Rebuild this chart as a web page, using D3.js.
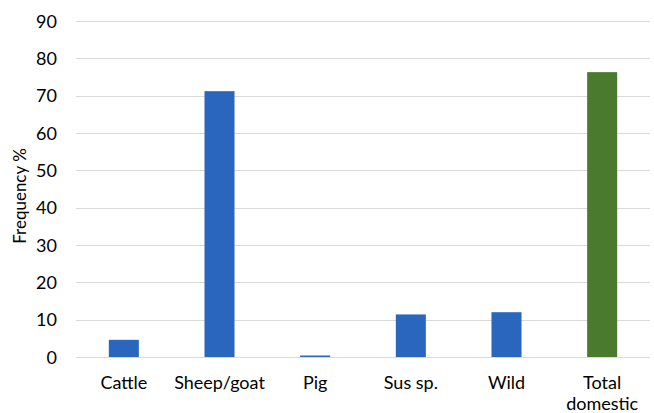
<!DOCTYPE html>
<html>
<head>
<meta charset="utf-8">
<script src="https://cdn.jsdelivr.net/npm/d3@7/dist/d3.min.js"></script>
<style>
  html, body { margin: 0; padding: 0; background: #fff; }
  svg text { font-family: Lato, "Open Sans", sans-serif; fill: #000; }
</style>
</head>
<body>
<svg id="chart" width="654" height="413"></svg>
<script>
(function () {
  'use strict';

  /* données */
  var categories = ['Cattle', 'Sheep/goat', 'Pig', 'Sus sp.', 'Wild', 'Total domestic'];
  var values     = [4.6, 71.2, 0.4, 11.4, 12.0, 76.3];
  var barColors  = ['#2a66be', '#2a66be', '#2a66be', '#2a66be', '#2a66be', '#4a7a2e'];
  var yTicks     = [0, 10, 20, 30, 40, 50, 60, 70, 80, 90];

  var margin = { top: 21, right: 4, bottom: 56, left: 76 };
  var W = 654, H = 413;
  var innerW = W - margin.left - margin.right;
  var innerH = H - margin.top - margin.bottom;

  var svg = d3.select('#chart');
  var g = svg.append('g').attr('transform', 'translate(' + margin.left + ',' + margin.top + ')');

  var x = d3.scaleBand().domain(categories).range([0, innerW]).paddingInner(0.686).paddingOuter(0.343);
  var y = d3.scaleLinear().domain([0, 90]).range([innerH, 0]);

  /* grille */
  g.append('g').selectAll('line')
    .data(yTicks)
    .enter().append('line')
    .attr('x1', 0).attr('x2', innerW)
    .attr('y1', function (d) { return Math.round(y(d)) + 0.5; })
    .attr('y2', function (d) { return Math.round(y(d)) + 0.5; })
    .attr('stroke', '#d9d9d9').attr('stroke-width', 1);

  /* axe Y */
  var yAxis = g.append('g').call(d3.axisLeft(y).tickValues(yTicks).tickSize(0).tickPadding(19));
  yAxis.select('.domain').remove();
  yAxis.selectAll('text').attr('font-size', '18px').attr('font-family', 'Lato, sans-serif').attr('dy', '0.34em');

  /* barres */
  g.selectAll('rect.bar')
    .data(values)
    .enter().append('rect')
    .attr('class', 'bar')
    .attr('x', function (d, i) { return x(categories[i]); })
    .attr('y', function (d) { return y(d); })
    .attr('width', x.bandwidth())
    .attr('height', function (d) { return innerH - y(d); })
    .attr('fill', function (d, i) { return barColors[i]; });

  /* axe X */
  var xAxis = g.append('g')
    .attr('transform', 'translate(0,' + innerH + ')')
    .call(d3.axisBottom(x).tickSize(0).tickPadding(0));
  xAxis.select('.domain').remove();
  xAxis.selectAll('text').remove();
  xAxis.selectAll('.tick').each(function (d) {
    var words = d === 'Total domestic' ? ['Total', 'domestic'] : [d];
    var t = d3.select(this).append('text')
      .attr('text-anchor', 'middle')
      .attr('font-size', '18px');
    words.forEach(function (w, i) {
      t.append('tspan').attr('x', 0).attr('y', 32 + i * 21).text(w);
    });
  });

  /* titre axe Y */
  svg.append('text')
    .attr('transform', 'translate(26,196) rotate(-90)')
    .attr('text-anchor', 'middle')
    .attr('font-size', '17px')
    .text('Frequency %');
})();
</script>
</body>
</html>
